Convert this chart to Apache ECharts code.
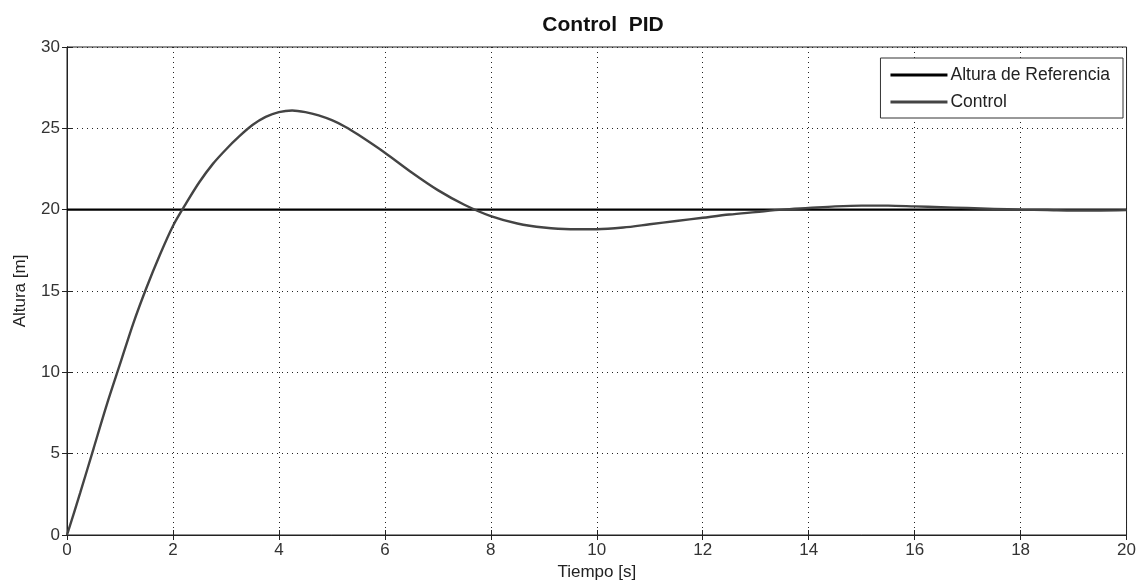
<!DOCTYPE html>
<html><head><meta charset="utf-8">
<script src="https://cdn.jsdelivr.net/npm/echarts@6/dist/echarts.min.js"></script>
<style>html,body{margin:0;padding:0;background:#fff}#c{width:1139px;height:587px}</style>
</head><body><div id="c"></div>
<script>
const titleText = 'Control  PID';
const xName = 'Tiempo [s]';
const yName = 'Altura [m]';
const refName = 'Altura de Referencia';
const ctrlName = 'Control';
const refValue = 20;
const timeValues = [0,0.25,0.5,0.75,1,1.25,1.5,1.75,2,2.25,2.5,2.75,3,3.25,3.5,3.75,4,4.25,4.5,4.75,5,5.25,5.5,6,6.5,7,7.5,8,8.5,9,9.5,10,10.5,11,11.5,12,12.5,13,13.5,14,14.5,15,15.5,16,16.5,17,17.5,18,18.5,19,19.5,20];
const controlValues = [0,2.6,5.3,8.0,10.5,13.0,15.2,17.2,19.0,20.4,21.7,22.8,23.7,24.5,25.2,25.7,26.0,26.1,26.0,25.8,25.5,25.1,24.6,23.5,22.3,21.2,20.3,19.6,19.15,18.9,18.8,18.8,18.9,19.1,19.3,19.5,19.7,19.85,20.0,20.1,20.2,20.25,20.25,20.2,20.15,20.1,20.05,20.0,19.98,19.95,19.95,19.97];
const refTimes = [0, 20];

const FONT = 'Liberation Sans';
const chart = echarts.init(document.getElementById('c'));
const gridLine = {show:true, lineStyle:{color:'#222', width:1, type:[1,4]}};
chart.setOption({
  animation:false,
  backgroundColor:'#fff',
  title:{text:titleText, left:598, top:10, textAlign:'center',
    textStyle:{fontFamily:FONT, fontSize:21, fontWeight:'bold', color:'#111'}},
  legend:{right:16, top:58, orient:'vertical', icon:'rect', itemWidth:57, itemHeight:3, itemGap:9,
    padding:[8,13,7,10], borderColor:'#333', borderWidth:1, backgroundColor:'#fff',
    textStyle:{fontFamily:FONT, fontSize:17.5, color:'#222', padding:[0,0,0,-2], lineHeight:18},
    data:[refName, ctrlName]},
  grid:{left:67, right:7, top:47, bottom:52, show:true, borderColor:'#222', borderWidth:1},
  xAxis:[{type:'value', min:0, max:20, interval:2, name:xName, nameLocation:'middle', nameGap:27,
    nameTextStyle:{fontFamily:FONT, fontSize:17, color:'#222'},
    axisLine:{show:true, onZero:false, lineStyle:{color:'#222'}},
    axisTick:{show:true, inside:true, length:5, lineStyle:{color:'#222'}},
    axisLabel:{fontFamily:FONT, fontSize:17, color:'#333', margin:7},
    splitLine:gridLine},
    {type:'value', position:'top', min:0, max:20, interval:2,
    axisLine:{show:true, lineStyle:{color:'#222'}},
    axisTick:{show:true, inside:true, length:5, lineStyle:{color:'#222'}},
    axisLabel:{show:false}, splitLine:{show:false}}],
  yAxis:[{type:'value', min:0, max:30, interval:5, name:yName, nameLocation:'middle', nameGap:38,
    nameRotate:90,
    nameTextStyle:{fontFamily:FONT, fontSize:17, color:'#222'},
    axisLine:{show:true, onZero:false, lineStyle:{color:'#222'}},
    axisTick:{show:true, inside:true, length:5, lineStyle:{color:'#222'}},
    axisLabel:{fontFamily:FONT, fontSize:17, color:'#333', margin:7},
    splitLine:gridLine},
    {type:'value', position:'right', min:0, max:30, interval:5,
    axisLine:{show:true, lineStyle:{color:'#222'}},
    axisTick:{show:true, inside:true, length:5, lineStyle:{color:'#222'}},
    axisLabel:{show:false}, splitLine:{show:false}}],
  series:[
    {name:refName, type:'line', symbol:'none', showSymbol:false,
      lineStyle:{color:'#000', width:2.2}, itemStyle:{color:'#000'},
      data:refTimes.map(t=>[t, refValue])},
    {name:ctrlName, type:'line', symbol:'none', showSymbol:false, smooth:0.3,
      lineStyle:{color:'#444', width:2.4}, itemStyle:{color:'#444'},
      data:timeValues.map((t,i)=>[t, controlValues[i]])}
  ]
});
</script></body></html>
